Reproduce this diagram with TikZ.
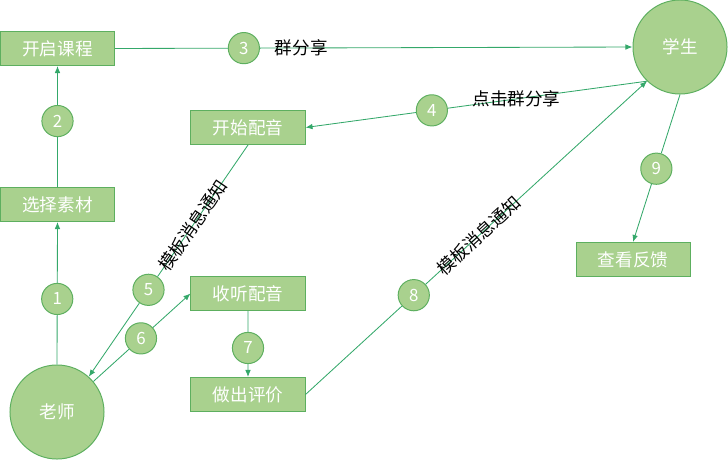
\documentclass[tikz,border=0pt]{standalone}
\usepackage{fontspec}
\setmainfont{Noto Sans CJK SC}
\usepackage{tikz}
\usetikzlibrary{shapes, arrows.meta, positioning, calc}

\definecolor{boxgreen}{HTML}{A9D18E}
\definecolor{edgegreen}{HTML}{5DAF5F}
\definecolor{linegreen}{HTML}{34A86A}

\begin{document}
\begin{tikzpicture}[x=0.025cm, y=-0.025cm,
    >={Latex[length=5pt,width=4pt]},
    box/.style={draw=edgegreen, fill=boxgreen, text=white, line width=0.7pt,
        minimum width=2.85cm, minimum height=0.85cm, font=\fontsize{12.5}{14}\selectfont},
    role/.style={circle, draw=edgegreen, fill=boxgreen, text=white, line width=0.7pt,
        minimum size=2.35cm, font=\fontsize{12.5}{14}\selectfont},
    num/.style={circle, draw=edgegreen, fill=boxgreen, text=white, line width=0.7pt,
        minimum size=0.78cm, inner sep=0pt, font=\fontsize{12}{14}\selectfont},
    link/.style={draw=linegreen, line width=0.6pt},
    tag/.style={font=\fontsize{12.5}{14}\selectfont, inner sep=1pt}]
    \useasboundingbox (0, 0) rectangle (728, 460);

    % People
    \node[role] (laoshi) at (57, 412) {老师};
    \node[role] (xuesheng) at (680, 47) {学生};

    % Steps
    \node[box] (kaiqi) at (57.5, 48.5) {开启课程};
    \node[box] (xuanze) at (57.5, 204.5) {选择素材};
    \node[box] (peiyin) at (248, 127.5) {开始配音};
    \node[box] (shouting) at (248, 293.5) {收听配音};
    \node[box] (pingjia) at (248, 394.5) {做出评价};
    \node[box] (fankui) at (633, 259.5) {查看反馈};

    % Numbers on the links
    \node[num] (n1) at ($(laoshi.north)!0.46!(xuanze.south)$) {1};
    \node[num] (n2) at ($(xuanze.north)!0.545!(kaiqi.south)$) {2};
    \node[num] (n3) at ($(kaiqi.east)!0.249!(xuesheng.west)$) {3};
    \node[num] (n4) at ($(xuesheng.226)!0.63!(peiyin.east)$) {4};
    \node[num] (n5) at ($(peiyin.south)!0.625!(laoshi.48)$) {5};
    \node[num] (n6) at ($(laoshi.40)!0.49!(shouting.west)$) {6};
    \node[num] (n7) at ($(shouting.south)!0.56!(pingjia.north)$) {7};
    \node[num] (n8) at ($(pingjia.east)!0.317!(xuesheng.226)$) {8};
    \node[num] (n9) at ($(xuesheng.south)!0.503!(fankui.north)$) {9};

    % Links
    \draw[link] (laoshi.north) -- (n1);
    \draw[link, ->] (n1) -- (xuanze.south);
    \draw[link] (xuanze.north) -- (n2);
    \draw[link, ->] (n2) -- (kaiqi.south);
    \draw[link] (kaiqi.east) -- (n3);
    \draw[link, ->] (n3) -- node[tag, pos=0.111] {群分享} (xuesheng.west);
    \draw[link] (xuesheng.226) -- node[tag, pos=0.655] {点击群分享} (n4);
    \draw[link, ->] (n4) -- (peiyin.east);
    \draw[link] (peiyin.south) -- node[tag, sloped, pos=0.61] {模板消息通知} (n5);
    \draw[link, ->] (n5) -- (laoshi.48);
    \draw[link] (laoshi.40) -- (n6);
    \draw[link, ->] (n6) -- (shouting.west);
    \draw[link] (shouting.south) -- (n7);
    \draw[link, ->] (n7) -- (pingjia.north);
    \draw[link] (pingjia.east) -- (n8);
    \draw[link, ->] (n8) -- node[tag, sloped, pos=0.24] {模板消息通知} (xuesheng.226);
    \draw[link] (xuesheng.south) -- (n9);
    \draw[link, ->] (n9) -- (fankui.north);
\end{tikzpicture}
\end{document}
